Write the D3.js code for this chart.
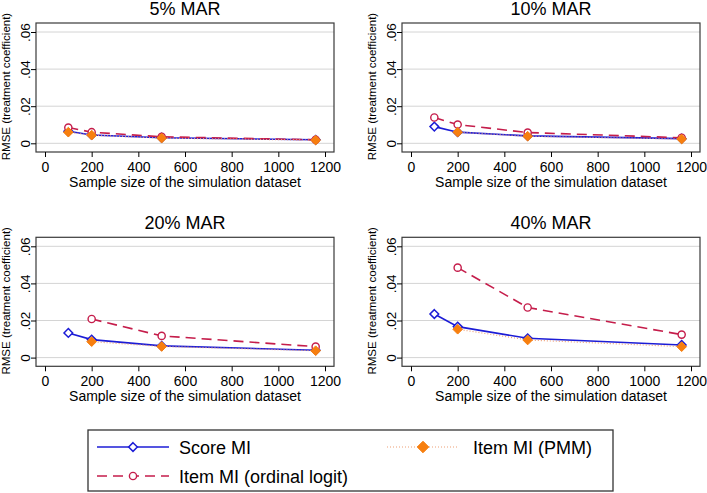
<!DOCTYPE html>
<html>
<head>
<meta charset="utf-8">
<script src="https://cdn.jsdelivr.net/npm/d3@7"></script>
<style>
  body { margin: 0; background: #fff; }
  text { font-family: "Liberation Sans", Arial, sans-serif; fill: #000; }
</style>
</head>
<body>
<div class="container"></div>
<script>
document.addEventListener('DOMContentLoaded', function(){

    // data
    const panelTitles = ["5% MAR", "10% MAR", "20% MAR", "40% MAR"]
    const sampleSizes = [100, 200, 500, 1160]
    const xTicks = [0, 200, 400, 600, 800, 1000, 1200]
    const yTicks = [0, 0.02, 0.04, 0.06]

    const scoreMI = [
        [0.0065, 0.0045, 0.0030, 0.0019],
        [0.0090, 0.0060, 0.0040, 0.0025],
        [0.0133, 0.0097, 0.0063, 0.0040],
        [0.0235, 0.0167, 0.0104, 0.0068]
    ]
    const itemOrdinal = [
        [0.0085, 0.0060, 0.0035, 0.0019],
        [0.0139, 0.0101, 0.0058, 0.0030],
        [null, 0.0208, 0.0117, 0.0059],
        [null, 0.0485, 0.0270, 0.0124]
    ]
    const itemPMM = [
        [0.0060, 0.0044, 0.0028, 0.0017],
        [null, 0.0060, 0.0038, 0.0023],
        [null, 0.0086, 0.0060, 0.0037],
        [null, 0.0153, 0.0095, 0.0059]
    ]

    const width = 707
    const height = 493
    const boxW = 298
    const boxH = 129
    const panelLeft = [36, 402]
    const panelTop = [23, 237.3]

    const blue = "#1c1cd6"
    const red = "#c51d4b"
    const orange = "#f77f0f"
    const dotted = "#eea077"

    const svg = d3.select(".container")
        .append("svg")
        .attr("width", width)
        .attr("height", height)

    const x = d3.scaleLinear().domain([0, 1200]).range([9, 289])
    const y = d3.scaleLinear().domain([0, 0.06]).range([120.3, 9])

    const diamond = d3.symbol().type(d3.symbolDiamond2)

    panelTitles.forEach((title, i) => {
        const g = svg.append("g")
            .attr("transform", "translate(" + panelLeft[i % 2] + "," + panelTop[Math.floor(i / 2)] + ")")

        // gridlines
        g.selectAll(".grid")
            .data(yTicks)
            .enter().append("line")
            .attr("x1", 0).attr("x2", boxW)
            .attr("y1", d => y(d)).attr("y2", d => y(d))
            .style("stroke", "#d4d4d4")
            .style("stroke-width", 1)

        // plot region outline
        g.append("rect")
            .attr("width", boxW).attr("height", boxH)
            .style("fill", "none")
            .style("stroke", "#3a3a3a")
            .style("stroke-width", 1.2)

        // axes
        const xAxis = g.append("g")
            .attr("transform", "translate(0," + boxH + ")")
            .call(d3.axisBottom(x).tickValues(xTicks).tickSize(5).tickPadding(5).tickFormat(d3.format("d")))
        xAxis.select(".domain").remove()
        xAxis.selectAll("line").style("stroke", "#000")
        xAxis.selectAll("text").style("font-size", "14px").style("font-family", "Liberation Sans, Arial, sans-serif")

        const yAxis = g.append("g")
            .call(d3.axisLeft(y).tickValues(yTicks).tickSize(5).tickFormat(d => d === 0 ? "0" : d3.format(".2f")(d).replace(/^0/, "")))
        yAxis.select(".domain").remove()
        yAxis.selectAll("line").style("stroke", "#000")
        yAxis.selectAll("text")
            .attr("x", null).attr("dy", null)
            .attr("transform", "translate(-6,0) rotate(-90)")
            .style("text-anchor", "middle")
            .style("font-size", "13.5px")
            .style("font-family", "Liberation Sans, Arial, sans-serif")

        // titles
        g.append("text")
            .attr("x", boxW / 2).attr("y", -8)
            .style("text-anchor", "middle")
            .style("font-size", "18px")
            .text(title)

        g.append("text")
            .attr("x", boxW / 2).attr("y", boxH + 35)
            .style("text-anchor", "middle")
            .style("font-size", "14px")
            .text("Sample size of the simulation dataset")

        g.append("text")
            .attr("transform", "translate(-26," + (boxH / 2 - 1) + ") rotate(-90)")
            .style("text-anchor", "middle")
            .style("font-size", "11.5px")
            .text("RMSE (treatment coefficient)")

        // series
        const line = d3.line()
            .defined(d => d.v != null)
            .x(d => x(d.n))
            .y(d => y(d.v))

        const toPoints = arr => sampleSizes.map((n, j) => ({n: n, v: arr[j]}))

        const sPts = toPoints(scoreMI[i])
        const oPts = toPoints(itemOrdinal[i])
        const pPts = toPoints(itemPMM[i])

        g.append("path").attr("d", line(sPts))
            .style("fill", "none").style("stroke", blue).style("stroke-width", 1.6)
        g.selectAll(".s").data(sPts.filter(d => d.v != null)).enter().append("path")
            .attr("d", diamond.size(48))
            .attr("transform", d => "translate(" + x(d.n) + "," + y(d.v) + ")")
            .style("fill", "#fff").style("stroke", blue).style("stroke-width", 1.5)

        g.append("path").attr("d", line(oPts))
            .style("fill", "none").style("stroke", red).style("stroke-width", 1.6)
            .style("stroke-dasharray", "10,6")
        g.selectAll(".o").data(oPts.filter(d => d.v != null)).enter().append("circle")
            .attr("cx", d => x(d.n)).attr("cy", d => y(d.v)).attr("r", 3.6)
            .style("fill", "#fff").style("stroke", red).style("stroke-width", 1.4)

        g.append("path").attr("d", line(pPts))
            .style("fill", "none").style("stroke", dotted).style("stroke-width", 1.2)
            .style("stroke-dasharray", "1,2")
        g.selectAll(".p").data(pPts.filter(d => d.v != null)).enter().append("path")
            .attr("d", diamond.size(60))
            .attr("transform", d => "translate(" + x(d.n) + "," + y(d.v) + ")")
            .style("fill", orange).style("stroke", orange).style("stroke-width", 1)
    })

    // legend
    const leg = svg.append("g")
    leg.append("rect")
        .attr("x", 88).attr("y", 430).attr("width", 525).attr("height", 61)
        .style("fill", "#fff").style("stroke", "#333").style("stroke-width", 1.3)

    const legendItems = [
        {label: "Score MI", lx: 97, tx: 179, yy: 447, color: blue, dash: null, w: 1.6, mark: "sd"},
        {label: "Item MI (PMM)", lx: 387, tx: 473, yy: 447, color: dotted, dash: "1,2", w: 1.2, mark: "pd"},
        {label: "Item MI (ordinal logit)", lx: 97, tx: 179, yy: 476, color: red, dash: "10,6", w: 1.6, mark: "c"}
    ]

    legendItems.forEach(d => {
        leg.append("line")
            .attr("x1", d.lx).attr("x2", d.lx + 72)
            .attr("y1", d.yy).attr("y2", d.yy)
            .style("stroke", d.color).style("stroke-width", d.w)
            .style("stroke-dasharray", d.dash)
        const cx = d.lx + 36
        if (d.mark === "sd") {
            leg.append("path").attr("d", diamond.size(48))
                .attr("transform", "translate(" + cx + "," + d.yy + ")")
                .style("fill", "#fff").style("stroke", blue).style("stroke-width", 1.5)
        } else if (d.mark === "pd") {
            leg.append("path").attr("d", diamond.size(85))
                .attr("transform", "translate(" + cx + "," + d.yy + ")")
                .style("fill", orange).style("stroke", orange)
        } else {
            leg.append("circle").attr("cx", cx).attr("cy", d.yy).attr("r", 3.6)
                .style("fill", "#fff").style("stroke", red).style("stroke-width", 1.4)
        }
        leg.append("text")
            .attr("x", d.tx).attr("y", d.yy + 6.5)
            .style("font-size", "18px")
            .text(d.label)
    })
});
</script>
</body>
</html>
